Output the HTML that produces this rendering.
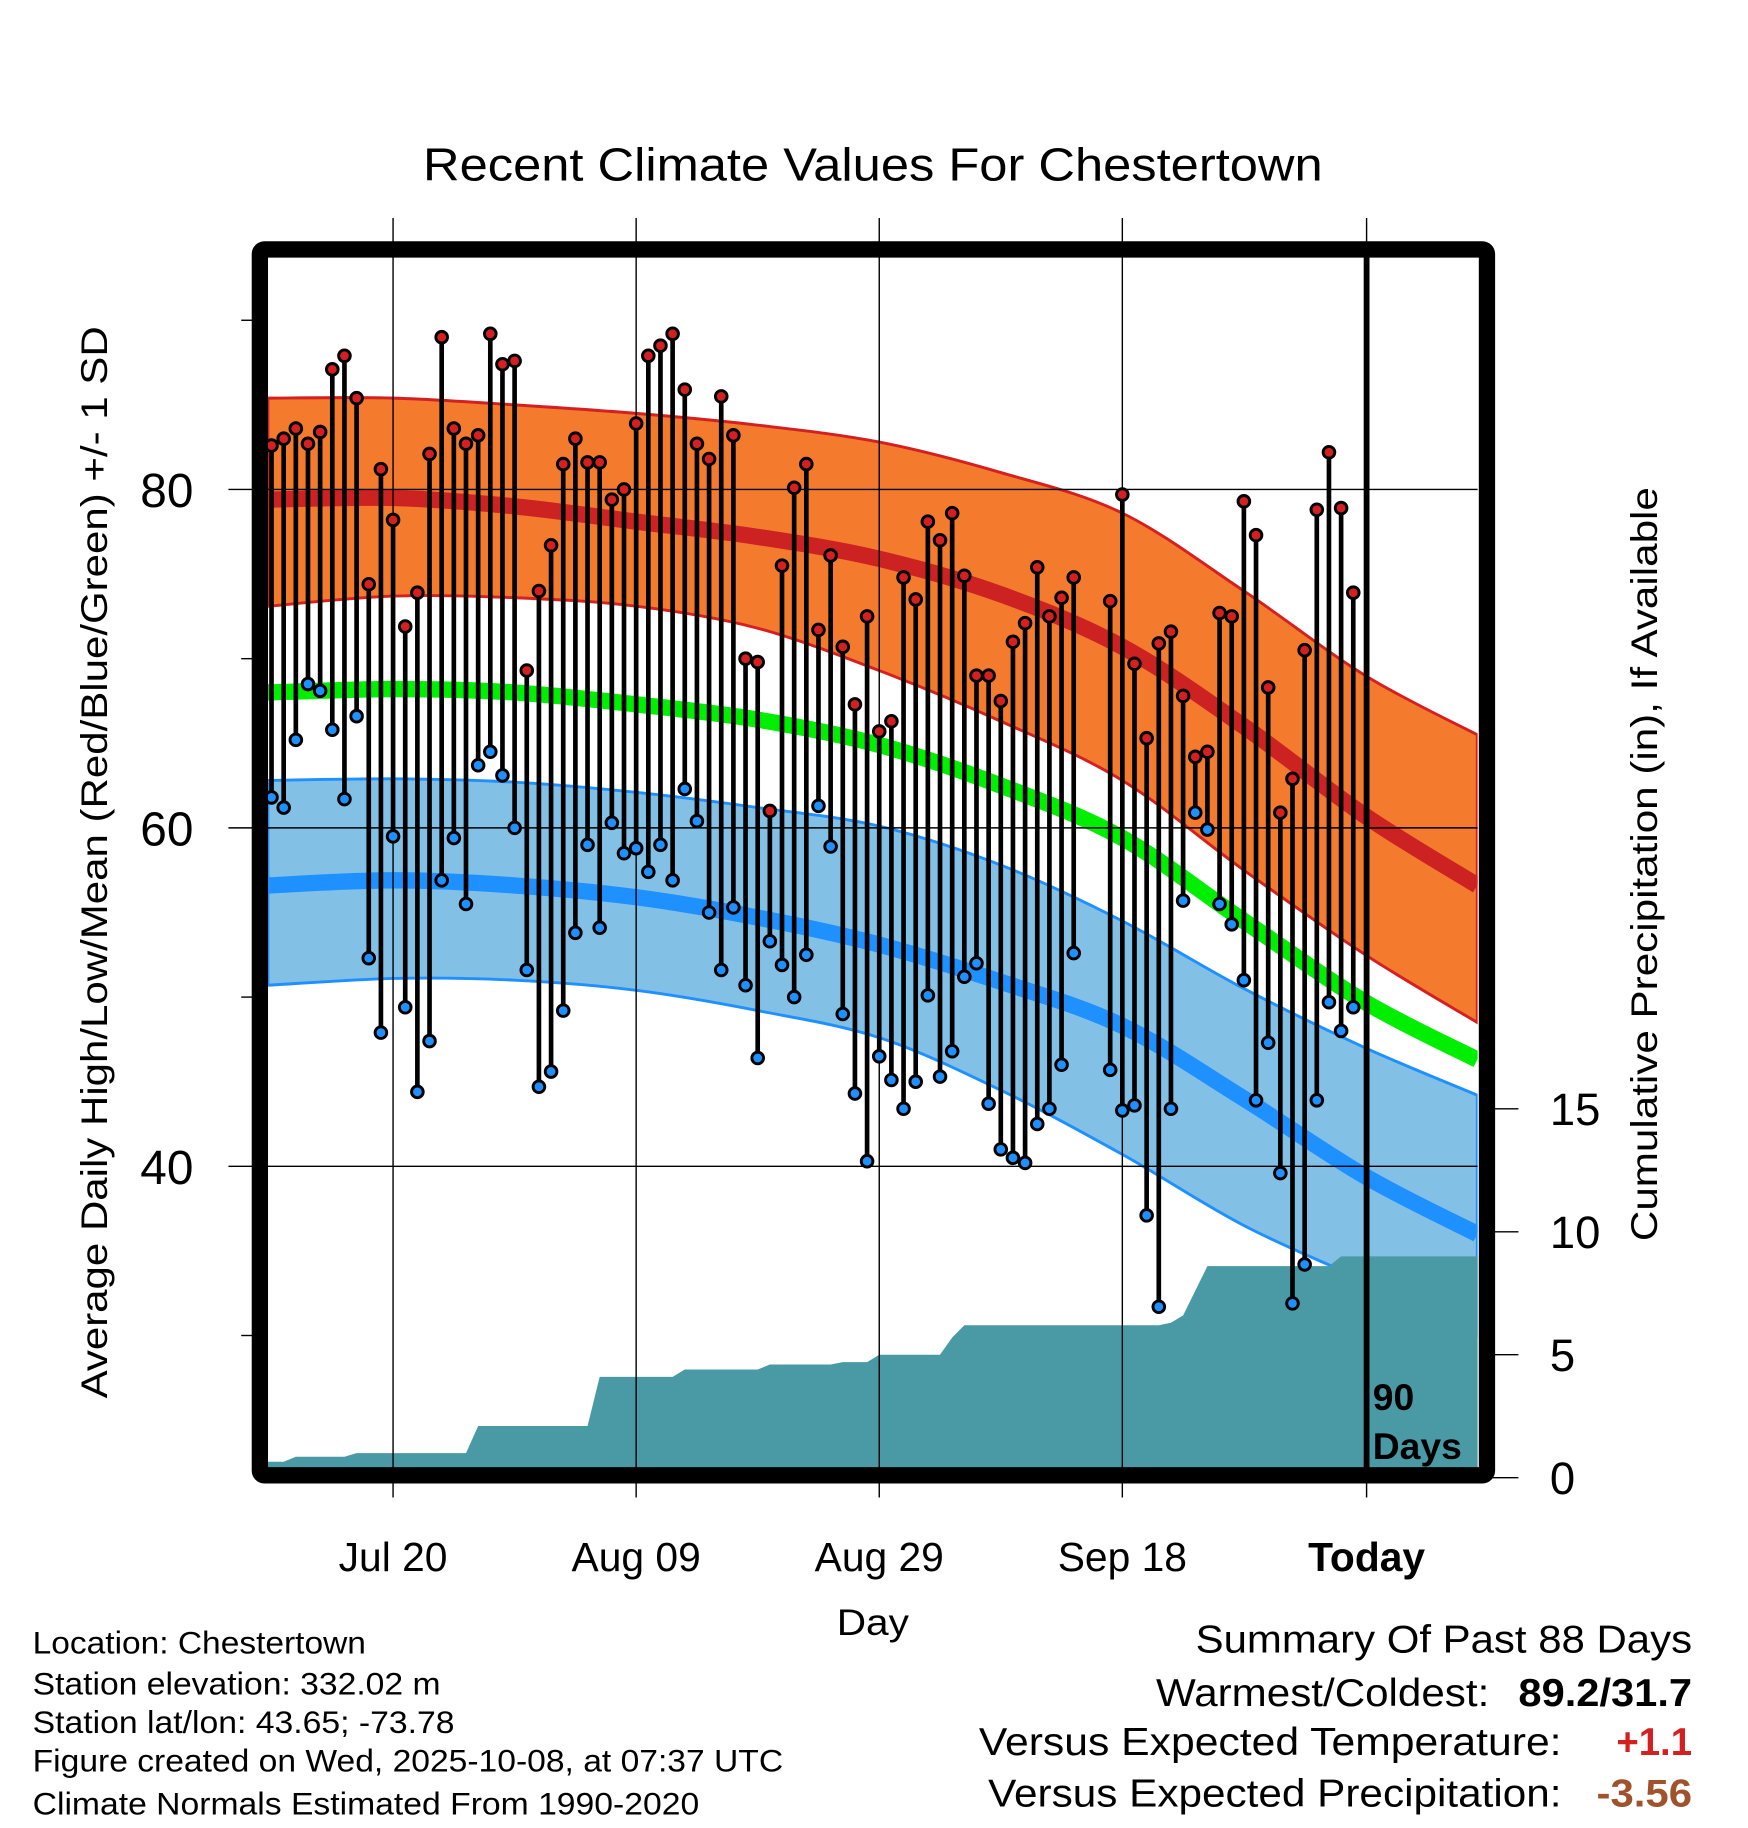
<!DOCTYPE html>
<html><head><meta charset="utf-8"><style>
html,body{margin:0;padding:0;background:#fff;}
svg{display:block;font-family:"Liberation Sans",sans-serif;}
</style></head><body>
<svg id="chart" width="1748" height="1828" viewBox="0 0 1500 1568.6" xmlns="http://www.w3.org/2000/svg">
<defs><clipPath id="plotclip"><rect x="230" y="221" width="1038" height="1039"/></clipPath></defs>
<g id="plot" clip-path="url(#plotclip)"></g>
<g id="over"></g>
<text x="363" y="155" font-size="40" textLength="772" lengthAdjust="spacingAndGlyphs">Recent Climate Values For Chestertown</text>
<text transform="translate(92,1200) rotate(-90)" font-size="32" textLength="920" lengthAdjust="spacingAndGlyphs">Average Daily High/Low/Mean (Red/Blue/Green) +/- 1 SD</text>
<text transform="translate(1422,1065) rotate(-90)" font-size="32" textLength="647" lengthAdjust="spacingAndGlyphs">Cumulative Precipitation (in), If Available</text>
<text x="718" y="1403" font-size="32" textLength="62" lengthAdjust="spacingAndGlyphs">Day</text>
<text x="1178" y="1210" font-size="32" font-weight="bold">90</text>
<text x="1178" y="1252" font-size="32" font-weight="bold">Days</text>
<g font-size="27" lengthAdjust="spacingAndGlyphs">
<text x="28" y="1419" textLength="286" lengthAdjust="spacingAndGlyphs">Location: Chestertown</text>
<text x="28" y="1454" textLength="350" lengthAdjust="spacingAndGlyphs">Station elevation: 332.02 m</text>
<text x="28" y="1487" textLength="362" lengthAdjust="spacingAndGlyphs">Station lat/lon: 43.65; -73.78</text>
<text x="28" y="1520" textLength="644" lengthAdjust="spacingAndGlyphs">Figure created on Wed, 2025-10-08, at 07:37 UTC</text>
<text x="28" y="1557" textLength="572" lengthAdjust="spacingAndGlyphs">Climate Normals Estimated From 1990-2020</text>
</g>
<g font-size="33">
<text x="1026" y="1418" textLength="426" lengthAdjust="spacingAndGlyphs">Summary Of Past 88 Days</text>
<text x="992" y="1464" textLength="286" lengthAdjust="spacingAndGlyphs">Warmest/Coldest:</text>
<text x="1303" y="1464" font-weight="bold" textLength="149" lengthAdjust="spacingAndGlyphs">89.2/31.7</text>
<text x="840" y="1506" textLength="500" lengthAdjust="spacingAndGlyphs">Versus Expected Temperature:</text>
<text x="1387" y="1506" font-weight="bold" fill="#d42020" textLength="65" lengthAdjust="spacingAndGlyphs">+1.1</text>
<text x="848" y="1550" textLength="492" lengthAdjust="spacingAndGlyphs">Versus Expected Precipitation:</text>
<text x="1370" y="1550" font-weight="bold" fill="#a0522d" textLength="82" lengthAdjust="spacingAndGlyphs">-3.56</text>
</g>
</svg>
<script>
// Normals (degrees F) at day offsets from Jul 10
const normDays = [-0.3,10,20,30,40,50,60,70,80,90,99.2];
const redMean  = [79.4,79.5,79.0,78.1,77.2,75.9,73.8,70.7,66.0,60.7,56.6];
const redTop   = [85.4,85.4,85.0,84.5,83.8,82.8,81.0,78.6,74.0,69.0,65.5];
const redBot   = [73.1,73.7,73.6,73.1,71.8,69.3,66.3,62.8,57.5,52.5,48.5];
const greenMean= [68.0,68.2,68.0,67.3,66.4,64.9,62.5,59.4,54.5,49.7,46.3];
const blueTop  = [62.8,62.9,62.7,62.1,61.2,60.1,57.8,54.5,50.5,47.0,44.2];
const blueMean = [56.6,56.9,56.6,55.9,54.7,53.1,50.9,48.3,44.0,39.4,36.0];
const blueBot  = [50.7,51.1,51.0,50.4,49.2,47.6,44.5,40.7,36.5,33.2,30.0];
// Observations: day offset from Jul 10, high, low
const obsDays = [0,1,2,3,4,5,6,7,8,9,10,11,12,13,14,15,16,17,18,19,20,21,22,23,24,25,26,27,28,29,30,31,32,33,34,35,36,37,38,39,40,41,42,43,44,45,46,47,48,49,50,51,52,53,54,55,56,57,58,59,60,61,62,63,64,65,66,69,70,71,72,73,74,75,76,77,78,79,80,81,82,83,84,85,86,87,88,89];
const highs = [82.6,83.0,83.6,82.7,83.4,87.1,87.9,85.4,74.4,81.2,78.2,71.9,73.9,82.1,89.0,83.6,82.7,83.2,89.2,87.4,87.6,69.3,74.0,76.7,81.5,83.0,81.6,81.6,79.4,80.0,83.9,87.9,88.5,89.2,85.9,82.7,81.8,85.5,83.2,70.0,69.8,61.0,75.5,80.1,81.5,71.7,76.1,70.7,67.3,72.5,65.7,66.3,74.8,73.5,78.1,77.0,78.6,74.9,69.0,69.0,67.5,71.0,72.1,75.4,72.5,73.6,74.8,73.4,79.7,69.7,65.3,70.9,71.6,67.8,64.2,64.5,72.7,72.5,79.3,77.3,68.3,60.9,62.9,70.5,78.8,82.2,78.9,73.9];
const lows  = [61.8,61.2,65.2,68.5,68.1,65.8,61.7,66.6,52.3,47.9,59.5,49.4,44.4,47.4,56.9,59.4,55.5,63.7,64.5,63.1,60.0,51.6,44.7,45.6,49.2,53.8,59.0,54.1,60.3,58.5,58.8,57.4,59.0,56.9,62.3,60.4,55.0,51.6,55.3,50.7,46.4,53.3,51.9,50.0,52.5,61.3,58.9,49.0,44.3,40.3,46.5,45.1,43.4,45.0,50.1,45.3,46.8,51.2,52.0,43.7,41.0,40.5,40.2,42.5,43.4,46.0,52.6,45.7,43.3,43.6,37.1,31.7,43.4,55.7,60.9,59.9,55.5,54.3,51.0,43.9,47.3,39.6,31.9,34.2,43.9,49.7,48.0,49.4];
// Cumulative precipitation (in) per day, day 0..89
const precip = [0.65,0.65,0.85,0.85,0.85,0.85,0.85,1.0,1.0,1.0,1.0,1.0,1.0,1.0,1.0,1.0,1.0,2.1,2.1,2.1,2.1,2.1,2.1,2.1,2.1,2.1,2.1,4.1,4.1,4.1,4.1,4.1,4.1,4.1,4.4,4.4,4.4,4.4,4.4,4.4,4.4,4.6,4.6,4.6,4.6,4.6,4.6,4.7,4.7,4.7,5.0,5.0,5.0,5.0,5.0,5.0,5.7,6.2,6.2,6.2,6.2,6.2,6.2,6.2,6.2,6.2,6.2,6.2,6.2,6.2,6.2,6.2,6.2,6.2,6.3,6.6,7.6,8.6,8.6,8.6,8.6,8.6,8.6,8.6,8.6,8.6,8.6,8.6,9.0,9.0];
const xTickDays = [10,30,50,70,90];
const xTickLabels = ["Jul 20","Aug 09","Aug 29","Sep 18","Today"];
const yTicks = [80,60,40];
const yMinor = [90,70,50,30];
const pTicks = [0,5,10,15];

const NS="http://www.w3.org/2000/svg";
const X = d => 233 + d*10.43;
const Y = t => 420 - (t-80)*14.52;
const P = p => 1268 - p*21.1;
const plot=document.getElementById('plot'), over=document.getElementById('over'), svg=document.getElementById('chart');
function mk(tag, attrs, parent){const e=document.createElementNS(NS,tag);for(const k in attrs)e.setAttribute(k,attrs[k]);parent.appendChild(e);return e;}
// smooth Catmull-Rom path through normal points
function smooth(arr, reverse, cont){
  let p=normDays.map((d,i)=>[X(d),Y(arr[i])]);
  if(reverse)p=p.reverse();
  let s=(cont?'L':'M')+p[0][0].toFixed(1)+','+p[0][1].toFixed(1);
  for(let i=0;i<p.length-1;i++){
    const p0=p[Math.max(0,i-1)],p1=p[i],p2=p[i+1],p3=p[Math.min(p.length-1,i+2)];
    const c1=[p1[0]+(p2[0]-p0[0])/6,p1[1]+(p2[1]-p0[1])/6];
    const c2=[p2[0]-(p3[0]-p1[0])/6,p2[1]-(p3[1]-p1[1])/6];
    s+=' C'+c1.map(v=>v.toFixed(1)).join(',')+' '+c2.map(v=>v.toFixed(1)).join(',')+' '+p2[0].toFixed(1)+','+p2[1].toFixed(1);
  }
  return s;
}
function band(top,bot){return smooth(top,false,false)+' '+smooth(bot,true,true)+' Z';}

let e;
e=mk('path',{d:band(redTop,redBot),fill:'#f47a2e',stroke:'#d42020','stroke-width':2.5},plot);


e=mk('path',{d:smooth(redMean),fill:'none',stroke:'#cc2222','stroke-width':14},plot);


e=mk('path',{d:smooth(greenMean),fill:'none',stroke:'#00ee00','stroke-width':14},plot);


e=mk('path',{d:band(blueTop,blueBot),fill:'#83c0e6',stroke:'#1e90ff','stroke-width':2.5},plot);


e=mk('path',{d:smooth(blueMean),fill:'none',stroke:'#1e90ff','stroke-width':14},plot);


// precipitation area
let pts=['228,1262', '228,'+P(precip[0]).toFixed(1)];
precip.forEach((p,i)=>pts.push(X(i).toFixed(1)+','+P(p).toFixed(1)));
pts.push('1270,'+P(precip[precip.length-1]).toFixed(1),'1270,1262');
e=mk('polygon',{points:pts.join(' '),fill:'#4a9aa5'},plot);


// grid
yTicks.forEach(t=>{
  e=mk('line',{x1:196,x2:1268,y1:Y(t),y2:Y(t),stroke:'#000','stroke-width':1.2},over);
  
  
  e=mk('text',{x:166,y:Y(t)+15,'font-size':41,'text-anchor':'end'},svg);
  e.textContent=t;
  
  
});
yMinor.forEach(t=>{
  e=mk('line',{x1:207,x2:218,y1:Y(t),y2:Y(t),stroke:'#000','stroke-width':1.2},over);
  
  
});
xTickDays.forEach((d,i)=>{
  const x=X(d)+(i==4?1:0);
  e=mk('line',{x1:x,x2:x,y1:187,y2:1285,stroke:'#000','stroke-width':1.2},over);
  
  
  e=mk('text',{x:x,y:1348,'font-size':35,'text-anchor':'middle','font-weight':i==4?'bold':'normal'},svg);
  e.textContent=xTickLabels[i];
  
  
});
pTicks.forEach(p=>{
  e=mk('line',{x1:1276,x2:1303,y1:P(p),y2:P(p),stroke:'#000','stroke-width':1.2},svg);
  
  
  e=mk('text',{x:1330,y:P(p)+14,'font-size':39},svg);
  e.textContent=p;
  
  
});
// today line
e=mk('line',{x1:X(90)+1,x2:X(90)+1,y1:214,y2:1266,stroke:'#000','stroke-width':5},over);


// stems and dots
obsDays.forEach((d,i)=>{
  const x=X(d);
  e=mk('line',{x1:x,x2:x,y1:Y(highs[i]),y2:Y(lows[i]),stroke:'#000','stroke-width':4},over);
  
  
  e=mk('circle',{cx:x,cy:Y(highs[i]),r:5,fill:'#d42020',stroke:'#000','stroke-width':2.5},over);
  
  
  e=mk('circle',{cx:x,cy:Y(lows[i]),r:5,fill:'#1e90ff',stroke:'#000','stroke-width':2.5},over);
  
  
});
// frame
e=mk('rect',{x:223,y:214,width:1053,height:1052,rx:4,fill:'none',stroke:'#000','stroke-width':14},over);


</script>
</body></html>
